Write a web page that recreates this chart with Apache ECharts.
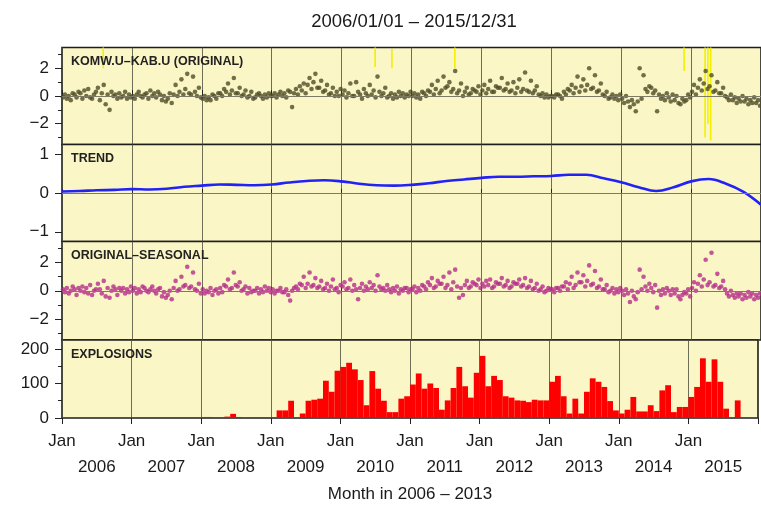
<!DOCTYPE html>
<html><head><meta charset="utf-8">
<script src="https://cdn.jsdelivr.net/npm/echarts@6/dist/echarts.min.js"></script>
<style>html,body{margin:0;padding:0;background:#fff}#c{width:761px;height:508px}</style>
</head><body><div id="c"></div><script>
// ---------- DATA ----------
const startYear = 2006;
const endYear = 2016;
const titleText = '2006/01/01 – 2015/12/31';
const panelLabels = ['KOMW.U–KAB.U (ORIGINAL)', 'TREND', 'ORIGINAL–SEASONAL', 'EXPLOSIONS'];
const xAxisName = 'Month in 2006 – 2013';
const janLabel = 'Jan';
const yearTicks = [2006, 2007, 2008, 2009, 2010, 2011, 2012, 2013, 2014, 2015, 2016];

// Original differences, 3 samples per month (Jan 2006 .. Dec 2015)
const originalValues = [
  // 2006
  -0.1,0.1,-0.2, 0.0,-0.3,0.2, 0.1,-0.1,0.3, 0.2,-0.2,0.4, 0.0,0.5,-0.1, -0.2,0.1,0.3,
  0.6,-0.3,0.2, 0.8,-0.6,0.1, -1.0,0.3,0.0, 0.1,-0.2,0.2, -0.1,0.0,0.3, -0.2,0.1,-0.1,
  // 2007
  0.0,-0.2,0.1, 0.3,0.0,-0.1, 0.1,0.2,-0.2, 0.4,0.0,0.2, -0.1,0.3,0.1, -0.3,0.0,-0.4,
  -0.2,0.2,-0.5, 0.1,0.8,0.0, 0.3,1.2,0.1, 0.5,1.6,0.2, 0.1,1.4,0.3, 0.0,0.6,-0.1,
  // 2008
  -0.2,0.0,-0.3, -0.1,-0.3,0.1, 0.0,-0.2,0.2, 0.2,0.0,0.5, 0.3,0.9,0.1, 0.4,1.3,0.2,
  0.2,0.6,0.0, 0.1,0.4,-0.1, 0.0,0.3,-0.2, -0.1,0.1,0.2, 0.0,-0.2,0.1, -0.1,0.2,0.0,
  // 2009
  0.0,0.2,-0.1, 0.1,0.3,0.0, 0.2,-0.1,0.4, 0.3,-0.8,0.2, 0.5,0.1,0.7, 0.4,0.9,0.2,
  0.8,1.3,0.5, 1.0,1.6,0.6, 0.6,1.1,0.3, 0.4,0.8,0.1, 0.2,0.6,0.0, 0.3,0.0,0.5,
  // 2010
  0.1,0.4,-0.1, 0.2,0.9,0.0, 0.0,1.0,0.3, 0.1,-0.2,0.5, 0.2,0.0,0.8, 0.1,0.4,-0.1,
  1.4,0.3,0.0, 0.2,0.6,-0.1, 0.0,0.2,-0.2, 0.1,-0.1,0.3, 0.0,0.2,-0.1, 0.1,0.0,0.3,
  // 2011
  0.0,0.2,-0.1, 0.1,-0.2,0.3, 0.2,0.0,0.4, 0.3,0.8,0.1, 0.5,1.1,0.2, 0.4,1.4,0.6,
  0.7,1.0,0.3, 0.5,1.8,0.2, 0.4,0.9,0.0, 0.3,0.6,0.1, 0.2,0.5,0.4, 0.3,0.7,0.1,
  // 2012
  0.4,0.8,0.2, 0.5,1.1,0.3, 0.3,0.7,0.6, 0.6,1.3,0.4, 0.5,0.9,0.3, 0.4,1.0,0.2,
  0.6,1.2,0.3, 0.5,1.7,0.4, 0.3,1.1,0.2, 0.4,0.7,0.1, 0.0,0.2,-0.1, 0.1,-0.1,0.0,
  // 2013
  0.0,-0.1,0.1, 0.1,0.0,-0.2, 0.3,0.1,0.5, 0.4,0.8,0.2, 0.6,1.4,0.3, 0.7,1.2,0.4,
  0.8,2.0,0.5, 0.6,1.5,0.3, 0.4,0.9,0.1, 0.0,0.3,-0.2, -0.1,0.1,-0.2, 0.0,-0.3,0.1,
  // 2014
  -0.2,-0.5,0.0, -0.4,-0.8,-0.3, -0.6,-1.1,-0.4, 2.0,-0.2,1.5, 0.5,0.3,0.7, 0.6,0.2,0.4,
  -1.1,0.1,-0.2, 0.0,-0.3,0.2, -0.1,-0.4,0.1, -0.3,0.0,-0.5, -0.6,-0.2,-0.4, -0.3,0.1,-0.1,
  // 2015
  0.3,0.8,0.1, 0.6,1.2,0.4, 0.9,1.8,0.5, 0.7,1.5,0.3, 0.4,1.0,0.2, 0.2,0.6,0.0,
  -0.1,-0.3,0.1, -0.3,-0.1,-0.5, -0.2,-0.4,0.0, -0.4,-0.2,-0.6, -0.3,-0.5,-0.1, -0.5,-0.3,-0.7
];

// Yellow outlier streaks in the original panel: [time, low, high]
const spikeTimes = [2006.59, 2010.48, 2010.72, 2011.62, 2014.90, 2015.20, 2015.24, 2015.28];
const spikeLows  = [2.0, 2.1, 2.0, 2.0, 1.8, -3.0, -2.0, -3.2];
const spikeHighs = [3.5, 3.5, 3.4, 3.5, 3.5, 3.5, 3.5, 3.5];

// Trend, quarterly
const trendTimes = [2006.0,2006.25,2006.5,2006.75,2007.0,2007.25,2007.5,2007.75,2008.0,2008.25,2008.5,2008.75,
  2009.0,2009.25,2009.5,2009.75,2010.0,2010.25,2010.5,2010.75,2011.0,2011.25,2011.5,2011.75,
  2012.0,2012.25,2012.5,2012.75,2013.0,2013.25,2013.5,2013.75,2014.0,2014.25,2014.5,2014.75,
  2015.0,2015.25,2015.5,2015.75,2016.0];
const trendValues = [0.04,0.05,0.07,0.08,0.10,0.09,0.11,0.16,0.19,0.22,0.21,0.20,
  0.22,0.27,0.31,0.33,0.30,0.24,0.20,0.19,0.21,0.25,0.31,0.35,
  0.39,0.42,0.42,0.43,0.44,0.47,0.47,0.38,0.28,0.15,0.05,0.15,
  0.30,0.36,0.24,0.03,-0.30];

// Original minus seasonal, 3 samples per month
const deseasonValues = [
  // 2006
  0.1,-0.1,0.2, -0.2,0.0,0.3, 0.1,-0.3,0.2, 0.0,0.3,-0.1, 0.2,-0.2,0.4, -0.3,0.0,0.1,
  0.5,0.1,-0.2, 0.7,-0.4,0.2, -0.5,0.0,0.3, 0.1,-0.3,0.2, 0.0,0.2,-0.2, 0.1,-0.1,0.3,
  // 2007
  0.0,0.2,-0.2, 0.1,-0.1,0.3, 0.2,0.0,-0.1, 0.1,0.3,0.0, -0.2,0.1,0.2, -0.4,-0.1,-0.5,
  -0.3,0.0,-0.6, 0.2,0.7,0.0, 0.1,1.0,0.3, 0.4,1.7,0.2, 0.3,1.3,0.1, 0.0,0.5,-0.2,
  // 2008
  0.1,-0.2,0.0, -0.1,0.2,-0.3, 0.0,0.1,-0.2, 0.2,-0.1,0.4, 0.3,0.8,0.1, 0.2,1.3,0.4,
  0.3,0.6,0.0, 0.1,0.3,-0.2, 0.2,-0.1,0.0, 0.0,0.2,-0.2, 0.1,-0.1,0.3, 0.0,0.2,-0.1,
  // 2009
  0.1,-0.2,0.0, 0.0,0.2,-0.1, -0.1,0.1,-0.3, -0.7,0.0,0.2, 0.3,0.1,0.5, 0.4,1.0,0.2,
  0.5,1.3,0.3, 0.4,0.9,0.2, 0.3,0.7,0.1, 0.2,0.5,0.0, 0.3,0.8,0.1, 0.2,-0.1,0.4,
  // 2010
  0.3,0.6,0.1, 0.2,0.8,0.0, 0.4,0.1,-0.6, 0.2,0.5,0.0, 0.3,0.1,0.6, 0.2,0.4,0.0,
  1.1,0.3,0.1, 0.2,0.0,0.4, 0.1,-0.1,0.2, 0.0,0.3,-0.2, 0.1,0.0,0.2, 0.2,-0.1,0.1,
  // 2011
  0.1,0.3,-0.1, 0.2,0.0,0.4, 0.3,0.1,0.6, 0.4,0.9,0.2, 0.3,0.7,0.5, 0.5,1.0,0.2,
  0.4,1.3,0.1, 0.6,1.5,0.3, -0.5,0.2,-0.3, 0.4,0.7,0.2, 0.3,0.6,0.5, 0.4,0.8,0.2,
  // 2012
  0.5,0.3,0.7, 0.4,0.8,0.2, 0.3,0.6,0.5, 0.5,0.9,0.3, 0.4,0.7,0.2, 0.3,0.6,0.5,
  0.5,0.8,0.3, 0.4,0.9,0.2, 0.3,0.7,0.1, 0.2,0.5,0.0, 0.1,0.3,-0.1, 0.0,0.2,0.1,
  // 2013
  0.1,-0.1,0.2, 0.2,0.0,0.3, 0.3,0.6,0.1, 0.5,1.0,0.2, 0.4,1.3,0.6, 0.6,1.1,0.3,
  0.7,1.8,0.4, 0.5,1.4,0.2, 0.3,0.8,0.1, 0.1,0.4,-0.1, 0.0,0.2,-0.2, 0.1,-0.1,0.2,
  // 2014
  0.0,-0.3,0.1, -0.2,-0.8,0.0, -0.4,-0.6,-0.1, 1.5,0.1,1.0, 0.3,0.0,0.5, 0.2,-0.1,0.4,
  -1.2,0.0,-0.3, 0.1,-0.2,0.2, 0.0,-0.3,0.1, -0.2,0.1,-0.4, -0.6,-0.3,-0.1, -0.2,0.1,-0.4,
  // 2015
  0.2,0.6,0.0, 0.5,1.1,0.3, 0.8,2.2,0.4, 0.6,2.7,0.3, 0.4,1.2,0.2, 0.3,0.7,0.1,
  -0.2,-0.4,0.0, -0.3,-0.5,-0.2, -0.4,-0.2,-0.6, -0.3,-0.5,-0.1, -0.4,-0.2,-0.6, -0.3,-0.5,-0.2
];

// Monthly explosion counts (Jan 2006 .. Dec 2015)
const explosions = [
  0,0,0,0,0,0,0,0,0,0,0,0,
  0,0,0,0,0,0,0,0,0,0,0,0,
  3,3,0,0,4,12,3,0,0,0,0,0,
  0,22,22,50,0,13,50,53,56,108,76,137,
  148,160,141,110,37,136,85,50,17,17,56,63,
  97,129,85,100,87,24,51,87,148,92,59,131,
  180,92,122,110,63,59,51,50,46,53,51,51,
  105,122,63,13,56,13,76,115,105,90,49,22,
  13,24,61,19,19,37,20,80,95,17,32,32,
  61,90,173,105,170,105,27,0,51,0,0,0
];

// ---------- CHART ----------
const FONT = 'Liberation Sans, Arial, Helvetica, sans-serif';
const BG = '#fbf6c6';
const sampleTime = i => startYear + (Math.floor(i / 3) + ((i % 3) + 0.5) / 3) / 12;
const origData = originalValues.map((v, i) => [sampleTime(i), v]);
const desData = deseasonValues.map((v, i) => [sampleTime(i), v]);
const trendData = trendTimes.map((t, i) => [t, trendValues[i]]);
const spikeData = spikeTimes.map((t, i) => [t, spikeLows[i], spikeHighs[i]]);
const barData = explosions.map((v, m) => [startYear + m / 12, startYear + (m + 1) / 12, v]);

const grids = [
  {left: 62, width: 700, top: 47.5, height: 97},
  {left: 62, width: 700, top: 144.5, height: 97},
  {left: 62, width: 700, top: 241.5, height: 98.5},
  {left: 62, width: 700, top: 340, height: 78}
].map(g => Object.assign(g, {show: true, backgroundColor: BG, borderColor: '#1e1e1e', borderWidth: 1.6}));

const splitStyle = {show: true, lineStyle: {color: '#4a4a3a', width: 0.8}};
function xAx(gi, opts) {
  return Object.assign({
    type: 'value', gridIndex: gi, min: startYear, max: endYear, interval: 0.5,
    axisLine: {show: false}, splitLine: splitStyle,
    axisTick: {show: true, inside: true, length: 4, customValues: yearTicks, lineStyle: {color: '#222', width: 1}},
    axisLabel: {show: false}
  }, opts || {});
}
const xAxes = [
  xAx(0), xAx(1), xAx(2),
  xAx(3, {
    axisTick: {show: true, inside: false, length: 6, customValues: yearTicks, lineStyle: {color: '#222', width: 1}},
    axisLabel: {show: true, margin: 10, fontSize: 17, fontFamily: FONT, color: '#1a1a1a', lineHeight: 26,
      formatter: v => {
        if (Math.abs(v - endYear) < 1e-6) return '';
        if (Math.abs(v - Math.round(v)) < 1e-6) return janLabel;
        return '\n' + Math.floor(v);
      }},
    name: xAxisName, nameLocation: 'middle', nameGap: 68,
    nameTextStyle: {fontSize: 17, fontFamily: FONT, color: '#1a1a1a'}
  }),
  xAx(0, {position: 'top', splitLine: {show: false},
    axisTick: {show: true, inside: false, length: 6, customValues: yearTicks, lineStyle: {color: '#222', width: 1}}})
];

function yMain(gi, min, max, vals) {
  return {type: 'value', gridIndex: gi, min, max,
    axisLine: {show: false}, splitLine: {show: false},
    axisTick: {show: true, length: 7, customValues: vals, lineStyle: {color: '#222', width: 1}},
    axisLabel: {show: true, customValues: vals, margin: 13, fontSize: 17, fontFamily: FONT, color: '#1a1a1a',
      formatter: v => (v < 0 ? '−' + Math.abs(v) : String(v))}};
}
function yMinor(gi, min, max, vals) {
  return {type: 'value', gridIndex: gi, min, max, position: 'left',
    axisLine: {show: false}, splitLine: {show: false},
    axisTick: {show: true, length: 4, customValues: vals, lineStyle: {color: '#222', width: 1}},
    axisLabel: {show: false}};
}
const yAxes = [
  yMain(0, -3.5, 3.5, [-2, 0, 2]), yMinor(0, -3.5, 3.5, [-3, -1, 1, 3]),
  yMain(1, -1.25, 1.25, [-1, 0, 1]),
  yMain(2, -3.5, 3.5, [-2, 0, 2]), yMinor(2, -3.5, 3.5, [-3, -1, 1, 3]),
  yMain(3, 0, 226, [0, 100, 200]), yMinor(3, 0, 226, [50, 150])
];

const zeroLine = {silent: true, symbol: 'none', label: {show: false},
  lineStyle: {color: '#7d7b66', width: 1, type: 'solid'}, data: [{yAxis: 0}]};

const option = {
  animation: false,
  backgroundColor: '#ffffff',
  title: [
    {text: titleText, left: 409, top: 7, textAlign: 'center',
      textStyle: {fontSize: 18.5, fontWeight: 'normal', fontFamily: FONT, color: '#1a1a1a'}},
    {text: panelLabels[0], left: 66, top: 50},
    {text: panelLabels[1], left: 66, top: 147},
    {text: panelLabels[2], left: 66, top: 244},
    {text: panelLabels[3], left: 66, top: 343}
  ].map((t, i) => i === 0 ? t : Object.assign(t, {
    textStyle: {fontSize: 12.5, fontWeight: 'bold', fontFamily: FONT, color: '#222'}})),
  grid: grids,
  xAxis: xAxes,
  yAxis: yAxes,
  series: [
    {type: 'scatter', xAxisIndex: 0, yAxisIndex: 0, data: origData, symbolSize: 4.6,
      itemStyle: {color: '#4f4d28', opacity: 0.8}, markLine: zeroLine, z: 3},
    {type: 'custom', xAxisIndex: 0, yAxisIndex: 0, data: spikeData, z: 2,
      renderItem: (params, api) => {
        const a = api.coord([api.value(0), api.value(1)]);
        const b = api.coord([api.value(0), api.value(2)]);
        return {type: 'line', shape: {x1: a[0], y1: a[1], x2: b[0], y2: b[1]},
          style: {stroke: '#f2f000', lineWidth: 1.6}};
      }},
    {type: 'line', xAxisIndex: 1, yAxisIndex: 2, data: trendData, smooth: 0.4, showSymbol: false,
      lineStyle: {color: '#2222f5', width: 2.6}, markLine: zeroLine, z: 3},
    {type: 'scatter', xAxisIndex: 2, yAxisIndex: 3, data: desData, symbolSize: 4.6,
      itemStyle: {color: '#b42e8a', opacity: 0.8}, markLine: zeroLine, z: 3},
    {type: 'custom', xAxisIndex: 3, yAxisIndex: 5, data: barData, z: 3,
      renderItem: (params, api) => {
        const p0 = api.coord([api.value(0), 0]);
        const p1 = api.coord([api.value(1), api.value(2)]);
        return {type: 'rect', shape: {x: p0[0], y: p1[1], width: p1[0] - p0[0], height: p0[1] - p1[1]},
          style: {fill: '#ff0000'}};
      }}
  ]
};
const chart = echarts.init(document.getElementById('c'), null, {renderer: 'canvas'});
chart.setOption(option);
</script></body></html>
